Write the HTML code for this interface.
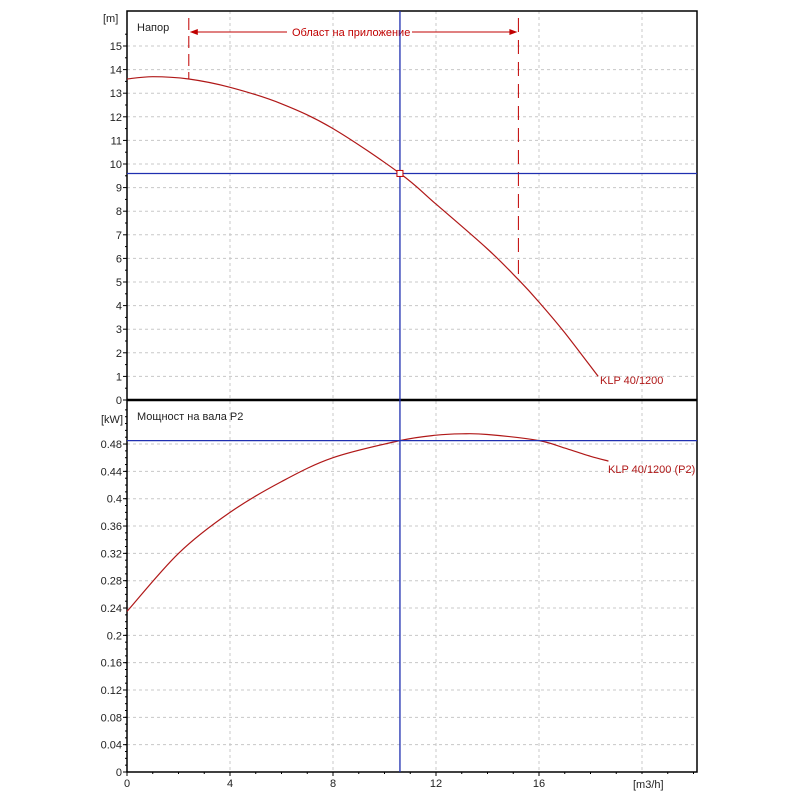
<!DOCTYPE html>
<html><head><meta charset="utf-8"><style>
body{margin:0;background:#fff}
svg{font-family:"Liberation Sans","DejaVu Sans",sans-serif}
</style></head><body>
<svg id="c" width="800" height="800" viewBox="0 0 800 800"></svg>
<script>
const xTicks=[0,4,8,12,16];
const headTicks=[0,1,2,3,4,5,6,7,8,9,10,11,12,13,14,15];
const powerTicks=[0,0.04,0.08,0.12,0.16,0.2,0.24,0.28,0.32,0.36,0.4,0.44,0.48];
const headQ=[0,1,2.4,4,6,8,10.6,12,14,15.2,16,17,18.3];
const headH=[13.6,13.7,13.6,13.25,12.55,11.5,9.6,8.3,6.4,5.1,4.15,2.85,1.0];
const powQ=[0,2,4,6,8,10.6,12,13,14,16,17,18,18.7];
const powP=[0.235,0.32,0.38,0.425,0.46,0.485,0.493,0.495,0.494,0.485,0.474,0.462,0.455];
const dutyQ=10.6, dutyH=9.6, dutyP=0.485;
const rangeMin=2.4, rangeMax=15.2;

const L=127,R=697,T=11,MID=400,B=772;
const X=q=>L+q*25.75;
const YH=h=>400-h*23.6;
const YP=p=>772-p/0.04*27.33;
const svg=document.getElementById('c');
const NS='http://www.w3.org/2000/svg';
function mk(tag,at,parent){const e=document.createElementNS(NS,tag);for(const k in at)e.setAttribute(k,at[k]);(parent||svg).appendChild(e);return e;}

const grid=mk('g',{stroke:'#c8c8c8','stroke-dasharray':'3,3','stroke-width':1});


xTicks.concat([20]).forEach(q=>{if(q>0){mk('line',{x1:X(q),x2:X(q),y1:T,y2:B},grid);}});
headTicks.forEach(h=>{if(h>0)mk('line',{x1:L,x2:R,y1:YH(h),y2:YH(h)},grid);});
powerTicks.forEach(p=>{if(p>0)mk('line',{x1:L,x2:R,y1:YP(p),y2:YP(p)},grid);});

const ax=mk('g',{fill:'#222','font-size':11});


headTicks.forEach(h=>{const y=YH(h);mk('line',{x1:L-4,x2:L,y1:y,y2:y,stroke:'#000'},ax);
 const t=mk('text',{x:L-5,y:y+4,'text-anchor':'end'},ax);t.textContent=h;
 });
for(let h=0.5;h<16.4;h+=1){const y=YH(h);mk('line',{x1:L-2,x2:L,y1:y,y2:y,stroke:'#000'},ax);}
powerTicks.forEach(p=>{const y=YP(p);mk('line',{x1:L-4,x2:L,y1:y,y2:y,stroke:'#000'},ax);
 const t=mk('text',{x:L-5,y:y+4,'text-anchor':'end'},ax);t.textContent=+p.toFixed(2);
 });
for(let p=0.01;p<0.54;p+=0.01){const y=YP(p);mk('line',{x1:L-2,x2:L,y1:y,y2:y,stroke:'#000'},ax);}
xTicks.forEach(q=>{const x=X(q);mk('line',{x1:x,x2:x,y1:B,y2:B+4,stroke:'#000'},ax);
 const t=mk('text',{x:x,y:B+15,'text-anchor':'middle'},ax);t.textContent=q;
 });
for(let q=1;q<22.2;q+=1){mk('line',{x1:X(q),x2:X(q),y1:B,y2:B+2,stroke:'#000'},ax);}

mk('rect',{x:L,y:T,width:R-L,height:B-T,fill:'none',stroke:'#000','stroke-width':1.5});
mk('line',{x1:L,x2:R,y1:MID,y2:MID,stroke:'#000','stroke-width':2.5});

function txt(x,y,s,name,extra){const t=mk('text',Object.assign({x:x,y:y,'font-size':11,fill:'#222'},extra||{}));t.textContent=s;
 return t;}
txt(103,22,'[m]','head-unit');
txt(137,31,'Напор','head-title');
txt(101,423,'[kW]','power-unit');
txt(137,420,'Мощност на вала P2','power-title');
txt(633,788,'[m3/h]','x-unit');

const ar=mk('g',{stroke:'#c00000',fill:'#c00000'});


mk('line',{x1:X(rangeMin),x2:X(rangeMin),y1:18,y2:YH(headH[2]),'stroke-dasharray':'12,6'},ar);
mk('line',{x1:X(rangeMax),x2:X(rangeMax),y1:18,y2:YH(headH[9]),'stroke-dasharray':'14,8'},ar);
mk('line',{x1:X(rangeMin)+2,x2:287,y1:32,y2:32},ar);
mk('line',{x1:412,x2:X(rangeMax)-2,y1:32,y2:32},ar);
mk('path',{d:`M${X(rangeMin)+1},32 l8,-3 v6z`,stroke:'none'},ar);
mk('path',{d:`M${X(rangeMax)-1},32 l-8,-3 v6z`,stroke:'none'},ar);
txt(292,36,'Област на приложение','application-range-label',{fill:'#c00000'});

function path(qs,vs,Y){
 const P=qs.map((q,i)=>[X(q),Y(vs[i])]);
 let d='M'+P[0][0].toFixed(1)+','+P[0][1].toFixed(1);
 for(let i=0;i<P.length-1;i++){
  const p0=P[Math.max(0,i-1)],p1=P[i],p2=P[i+1],p3=P[Math.min(P.length-1,i+2)];
  const c1=[p1[0]+(p2[0]-p0[0])/6,p1[1]+(p2[1]-p0[1])/6];
  const c2=[p2[0]-(p3[0]-p1[0])/6,p2[1]-(p3[1]-p1[1])/6];
  d+=` C${c1[0].toFixed(1)},${c1[1].toFixed(1)} ${c2[0].toFixed(1)},${c2[1].toFixed(1)} ${p2[0].toFixed(1)},${p2[1].toFixed(1)}`;
 }
 return d;}
const hc=mk('path',{d:path(headQ,headH,YH),fill:'none',stroke:'#b01818','stroke-width':1.2});

const pc=mk('path',{d:path(powQ,powP,YP),fill:'none',stroke:'#b01818','stroke-width':1.2});

txt(600,384,'KLP 40/1200','head-curve-label',{fill:'#b01818'});
txt(608,473,'KLP 40/1200 (P2)','power-curve-label',{fill:'#b01818'});

const cr=mk('g',{stroke:'#2030b0','stroke-width':1.3});


mk('line',{x1:X(dutyQ),x2:X(dutyQ),y1:T,y2:B},cr);
mk('line',{x1:L,x2:R,y1:Math.round(YH(dutyH))+0.5,y2:Math.round(YH(dutyH))+0.5},cr);
mk('line',{x1:L,x2:R,y1:YP(dutyP),y2:YP(dutyP)},cr);
const dp=mk('rect',{x:X(dutyQ)-3,y:YH(dutyH)-3,width:6,height:6,fill:'#fff',stroke:'#c00000'});

</script>
</body></html>
